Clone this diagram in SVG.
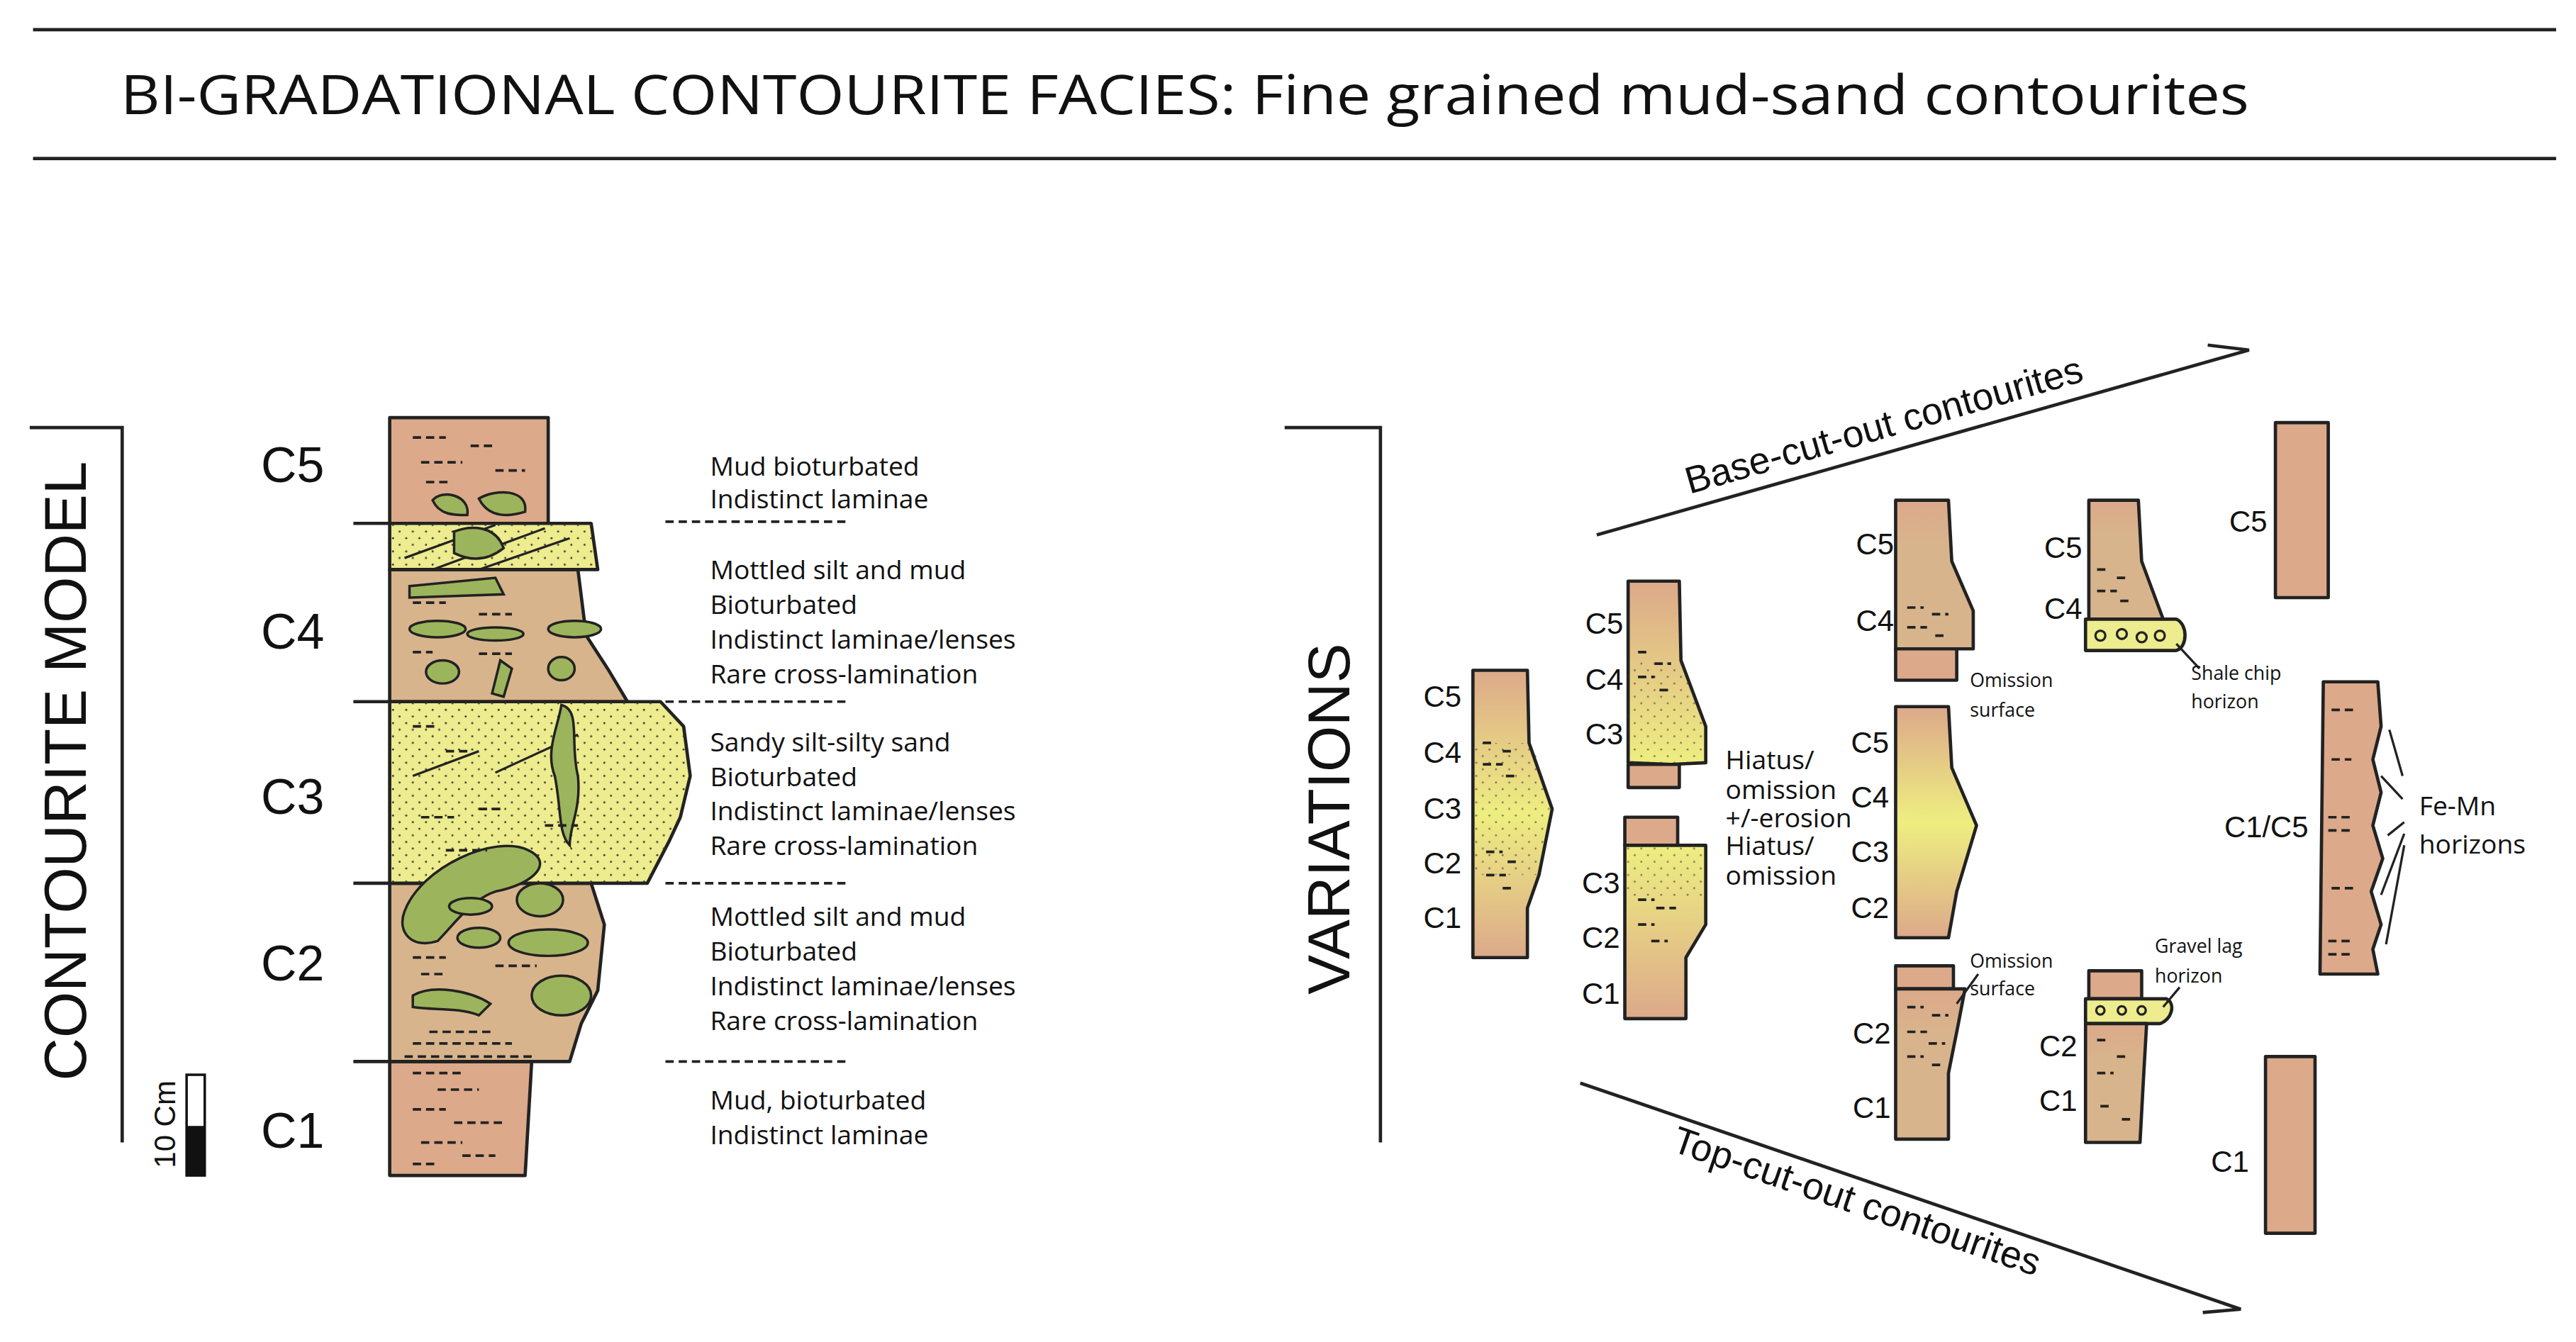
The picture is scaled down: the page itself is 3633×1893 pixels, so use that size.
<svg xmlns="http://www.w3.org/2000/svg" width="3633" height="1893" viewBox="0 0 3633 1893">
<defs>
<style>
.ln{stroke:#222;stroke-width:2;fill:none}
.col{stroke:#222;stroke-width:2;stroke-linejoin:round}
.mud{fill:#DCA98A}
.sand{fill:#EDEC8E}
.mot{fill:#D8B48C}
.blob{fill:#9CB45C;stroke:#222;stroke-width:1.5}
.dash{stroke:#222;stroke-width:1.6;fill:none;stroke-dasharray:5 3}
.cl{font-family:"Liberation Sans",Arial,sans-serif;font-size:30px;fill:#111}
.sl{font-family:"Liberation Sans",Arial,sans-serif;font-size:18px;fill:#111}
.ds{font-family:"Open Sans","Liberation Sans",sans-serif;font-size:16px;fill:#111}
.sm{font-family:"Open Sans","Liberation Sans",sans-serif;font-size:11.5px;fill:#111}
.big{font-family:"Liberation Sans",Arial,sans-serif;font-size:36px;fill:#111}
.tx{stroke:#222;stroke-width:1.4;fill:none}
</style>
<linearGradient id="gA" x1="0" y1="0" x2="0" y2="1">
<stop offset="0" stop-color="#DCA98A"/><stop offset="0.5" stop-color="#EEEE80"/><stop offset="1" stop-color="#DCA98A"/>
</linearGradient>
<linearGradient id="gB" x1="0" y1="0" x2="0" y2="1">
<stop offset="0" stop-color="#DCA98A"/><stop offset="1" stop-color="#EEEE80"/>
</linearGradient>
<linearGradient id="gC" x1="0" y1="0" x2="0" y2="1">
<stop offset="0" stop-color="#EEEE80"/><stop offset="1" stop-color="#DCA98A"/>
</linearGradient>
<linearGradient id="gD" x1="0" y1="0" x2="0" y2="1">
<stop offset="0" stop-color="#DCA98A"/><stop offset="0.3" stop-color="#D8B48C"/><stop offset="1" stop-color="#D8B48C"/>
</linearGradient>
<pattern id="dots" width="8" height="8" patternUnits="userSpaceOnUse"><circle cx="2" cy="2" r="0.6" fill="#333"/><circle cx="6" cy="6" r="0.6" fill="#333"/></pattern>
</defs>
<rect width="3633" height="1893" fill="#fff"/>
<g transform="scale(2.3288)">
<g id="header">
<line x1="20" y1="18" x2="1548" y2="18" class="ln"/>
<line x1="20" y1="96" x2="1548" y2="96" class="ln"/>
<text x="73" y="69" font-family="Open Sans,Liberation Sans,sans-serif" font-size="33" fill="#111" textLength="1289" lengthAdjust="spacingAndGlyphs">BI-GRADATIONAL CONTOURITE FACIES: Fine grained mud-sand contourites</text>
</g>

<g id="model-bracket">
<polyline points="18,259 74,259 74,692" class="ln"/>
<text class="big" transform="translate(52,467) rotate(-90)" text-anchor="middle">CONTOURITE MODEL</text>
</g>

<g id="model-column">
<path class="col mud" d="M236,253 L332,253 L332,317 L236,317 Z"/>
<path class="col mud" d="M236,643 L322,643 L318,712 L236,712 Z"/>
<path class="col mot" d="M236,535 L358,535 L366,560 L362,600 L352,620 L345,643 L236,643 Z"/>
<path class="col mot" d="M236,345 L350,345 L355,385 L368,405 L380,425 L236,425 Z"/>
<path class="col sand" d="M236,317 L358,317 L362,345 L236,345 Z"/>
<path d="M236,317 L358,317 L362,345 L236,345 Z" fill="url(#dots)"/>
<path class="col sand" d="M236,425 L400,425 L414,440 L418,470 L412,495 L405,510 L392,535 L236,535 Z"/>
<path d="M236,425 L400,425 L414,440 L418,470 L412,495 L405,510 L392,535 L236,535 Z" fill="url(#dots)"/>
<g class="tx">
<path d="M245,338 L300,318 M262,345 L330,320 M290,345 L345,326"/>
<path d="M250,470 L290,455 M300,468 L350,445"/>
</g>
<path class="blob" d="M340,427 C352,430 345,450 350,470 C352,490 345,500 345,512 C338,505 340,490 336,470 C330,455 338,440 340,427 Z"/>
<path class="blob" d="M245,552 C255,525 300,505 320,515 C335,522 325,535 300,540 C285,545 275,560 265,570 C250,575 240,565 245,552 Z"/>
<path class="blob" d="M275,322 C285,318 300,318 305,332 C295,340 285,340 275,335 Z"/>
<path class="blob" d="M248,355 L300,350 L305,360 L248,362 Z"/>
<ellipse class="blob" cx="265" cy="381" rx="17" ry="5"/>
<ellipse class="blob" cx="300" cy="384" rx="17" ry="4"/>
<ellipse class="blob" cx="348" cy="381" rx="16" ry="5"/>
<ellipse class="blob" cx="268" cy="407" rx="10" ry="7"/>
<ellipse class="blob" cx="340" cy="405" rx="8" ry="7"/>
<path class="blob" d="M298,420 L303,400 L310,405 L305,422 Z"/>
<ellipse class="blob" cx="285" cy="549" rx="13" ry="5"/>
<ellipse class="blob" cx="327" cy="545" rx="14" ry="10"/>
<ellipse class="blob" cx="332" cy="571" rx="24" ry="8"/>
<ellipse class="blob" cx="290" cy="568" rx="13" ry="6"/>
<ellipse class="blob" cx="340" cy="603" rx="18" ry="12"/>
<path class="blob" d="M250,603 C262,596 285,600 297,608 L290,615 C278,610 262,612 250,610 Z"/>
<path class="blob" d="M262,303 C268,296 285,300 283,312 C275,312 266,312 262,303 Z"/>
<path class="blob" d="M290,302 C300,296 320,296 318,310 C305,314 295,312 290,302 Z"/>
<g class="dash">
<path d="M250,265 h20 M285,270 h15 M255,280 h25 M300,285 h18 M258,292 h15 M245,640 h80 M250,650 h30 M265,660 h25 M250,672 h20 M275,680 h30 M255,692 h25 M280,700 h20 M250,705 h15"/>
<path d="M250,365 h20 M290,372 h20 M250,395 h12 M290,396 h20 M250,440 h15 M270,455 h15 M255,495 h20 M290,490 h15 M330,500 h20 M270,515 h25 M250,580 h20 M300,585 h25 M255,590 h15 M260,625 h40 M250,632 h60"/>
</g>
</g>

<g id="model-ticks">
<g class="ln">
<line x1="214" y1="317" x2="236" y2="317"/><line x1="214" y1="425" x2="236" y2="425"/>
<line x1="214" y1="535" x2="236" y2="535"/><line x1="214" y1="643" x2="236" y2="643"/>
</g>
<text class="cl" x="158" y="292">C5</text><text class="cl" x="158" y="393">C4</text>
<text class="cl" x="158" y="493">C3</text><text class="cl" x="158" y="594">C2</text><text class="cl" x="158" y="695">C1</text>
<rect x="113" y="651" width="11" height="61" fill="#fff" stroke="#111" stroke-width="1.5"/>
<rect x="113" y="682" width="11" height="30" fill="#111"/>
<text class="sl" transform="translate(106,681) rotate(-90)" text-anchor="middle">10 Cm</text>
</g>

<g id="model-descriptions">
<g class="dash" stroke-dasharray="3 1.5" stroke-width="2.2">
<line x1="403" y1="316" x2="512" y2="316"/><line x1="403" y1="425" x2="512" y2="425"/>
<line x1="403" y1="535" x2="512" y2="535"/><line x1="403" y1="643" x2="512" y2="643"/>
</g>
<text class="ds" x="430" y="288">Mud bioturbated</text><text class="ds" x="430" y="308">Indistinct laminae</text>
<text class="ds" x="430" y="351">Mottled silt and mud</text><text class="ds" x="430" y="372">Bioturbated</text>
<text class="ds" x="430" y="393">Indistinct laminae/lenses</text><text class="ds" x="430" y="414">Rare cross-lamination</text>
<text class="ds" x="430" y="455">Sandy silt-silty sand</text><text class="ds" x="430" y="476">Bioturbated</text>
<text class="ds" x="430" y="497">Indistinct laminae/lenses</text><text class="ds" x="430" y="518">Rare cross-lamination</text>
<text class="ds" x="430" y="561">Mottled silt and mud</text><text class="ds" x="430" y="582">Bioturbated</text>
<text class="ds" x="430" y="603">Indistinct laminae/lenses</text><text class="ds" x="430" y="624">Rare cross-lamination</text>
<text class="ds" x="430" y="672">Mud, bioturbated</text><text class="ds" x="430" y="693">Indistinct laminae</text>
</g>

<g id="variations-bracket">
<polyline points="778,259 836,259 836,692" class="ln"/>
<text class="big" font-size="40" transform="translate(817,496) rotate(-90)" text-anchor="middle">VARIATIONS</text>
</g>

<g id="connectors">
<path class="ln" d="M967,324 L1362,212 L1337,209"/>
<path class="ln" d="M957,656 L1357,793 L1334,795"/>
<text font-family="Liberation Sans,Arial,sans-serif" font-size="23" fill="#111" transform="translate(1143,265) rotate(-16)" text-anchor="middle">Base-cut-out contourites</text>
<text font-family="Liberation Sans,Arial,sans-serif" font-size="23" fill="#111" transform="translate(1122,735) rotate(19)" text-anchor="middle">Top-cut-out contourites</text>
</g>

<g id="col-a">
<path class="col" fill="url(#gA)" d="M892,406 L925,406 L926,450 L940,490 L932,530 L925,550 L925,580 L892,580 Z"/>
<path d="M892,450 L928,450 L940,490 L932,530 L892,530 Z" fill="url(#dots)" opacity="0.6"/>
<g class="dash"><path d="M898,450 h8 M910,455 h8 M898,463 h12 M912,470 h8 M900,516 h10 M913,522 h8 M900,530 h12 M910,538 h8"/></g>
<text class="sl" x="862" y="428">C5</text><text class="sl" x="862" y="462">C4</text><text class="sl" x="862" y="496">C3</text><text class="sl" x="862" y="529">C2</text><text class="sl" x="862" y="562">C1</text>
</g>

<g id="col-b">
<path class="col" fill="url(#gB)" d="M986,352 L1017,352 L1018,400 L1033,440 L1033,462 L1012,463 L986,462 Z"/>
<path d="M986,400 L1018,400 L1033,440 L1033,462 L986,462 Z" fill="url(#dots)" opacity="0.6"/>
<path class="col mud" d="M986,463 L1017,463 L1017,477 L986,477 Z"/>
<path class="col mud" d="M984,495 L1016,495 L1016,512 L984,512 Z"/>
<path class="col" fill="url(#gC)" d="M984,512 L1033,512 L1033,560 L1021,580 L1021,617 L984,617 Z"/>
<path d="M984,512 L1033,512 L1033,545 L984,545 Z" fill="url(#dots)" opacity="0.6"/>
<g class="dash"><path d="M992,395 h8 M1002,402 h10 M992,410 h10 M1005,418 h8 M992,545 h10 M1003,550 h12 M992,560 h10 M1000,570 h10"/></g>
<text class="sl" x="960" y="384">C5</text><text class="sl" x="960" y="418">C4</text><text class="sl" x="960" y="451">C3</text>
<text class="sl" x="958" y="541">C3</text><text class="sl" x="958" y="574">C2</text><text class="sl" x="958" y="608">C1</text>
<text class="ds" x="1045" y="466">Hiatus/</text><text class="ds" x="1045" y="484">omission</text>
<text class="ds" x="1045" y="501">+/-erosion</text><text class="ds" x="1045" y="518">Hiatus/</text><text class="ds" x="1045" y="536">omission</text>
</g>

<g id="col-c">
<path class="col" fill="url(#gD)" d="M1148,303 L1180,303 L1182,340 L1195,370 L1195,393 L1148,393 Z"/>
<path class="col mud" d="M1148,393 L1185,393 L1185,412 L1148,412 Z"/>
<g class="dash"><path d="M1155,368 h10 M1170,372 h10 M1155,380 h12 M1172,385 h8"/></g>
<text class="sl" x="1124" y="336">C5</text><text class="sl" x="1124" y="382">C4</text>
<text class="sm" x="1193" y="416">Omission</text><text class="sm" x="1193" y="434">surface</text>
<path class="col" fill="url(#gA)" d="M1148,428 L1180,428 L1182,465 L1197,500 L1185,540 L1180,568 L1148,568 Z"/>
<text class="sl" x="1121" y="456">C5</text><text class="sl" x="1121" y="489">C4</text><text class="sl" x="1121" y="522">C3</text><text class="sl" x="1121" y="556">C2</text>
<path class="col mud" d="M1148,585 L1183,585 L1183,599 L1148,599 Z"/>
<path class="col" fill="url(#gD)" d="M1148,599 L1190,599 L1186,620 L1180,650 L1180,690 L1148,690 Z"/>
<g class="dash"><path d="M1155,610 h10 M1170,615 h10 M1155,625 h12 M1168,632 h10 M1155,640 h10 M1170,645 h8"/></g>
<path class="tx" d="M1185,608 L1198,590"/>
<text class="sl" x="1122" y="632">C2</text><text class="sl" x="1122" y="677">C1</text>
<text class="sm" x="1193" y="586">Omission</text><text class="sm" x="1193" y="603">surface</text>
</g>

<g id="col-d">
<path class="col" fill="url(#gD)" d="M1265,303 L1295,303 L1297,340 L1310,375 L1265,375 Z"/>
<path class="col sand" d="M1263,375 L1318,375 C1325,378 1325,392 1318,394 L1263,394 Z"/>
<g class="tx"><circle cx="1272" cy="385" r="3"/><circle cx="1285" cy="384" r="3"/><circle cx="1297" cy="386" r="3"/><circle cx="1308" cy="385" r="3"/></g>
<g class="dash"><path d="M1270,345 h8 M1282,350 h8 M1270,358 h12 M1284,364 h8"/></g>
<path class="tx" d="M1318,390 L1332,405"/>
<text class="sl" x="1238" y="338">C5</text><text class="sl" x="1238" y="375">C4</text>
<text class="sm" x="1327" y="412">Shale chip</text><text class="sm" x="1327" y="429">horizon</text>
<path class="col mud" d="M1265,588 L1297,588 L1297,605 L1265,605 Z"/>
<path class="col sand" d="M1263,605 L1312,605 C1318,608 1315,618 1308,620 L1263,620 Z"/>
<g class="tx"><circle cx="1272" cy="612" r="2.5"/><circle cx="1285" cy="612" r="2.5"/><circle cx="1297" cy="612" r="2.5"/></g>
<path class="col" fill="url(#gD)" d="M1263,620 L1300,620 L1298,655 L1296,692 L1263,692 Z"/>
<g class="dash"><path d="M1270,630 h8 M1282,640 h8 M1270,650 h10 M1272,670 h6 M1285,678 h8"/></g>
<path class="tx" d="M1310,610 L1320,598"/>
<text class="sl" x="1235" y="640">C2</text><text class="sl" x="1235" y="673">C1</text>
<text class="sm" x="1305" y="577">Gravel lag</text><text class="sm" x="1305" y="595">horizon</text>
</g>

<g id="col-e">
<rect class="col mud" x="1378" y="256" width="32" height="106"/>
<text class="sl" x="1350" y="322">C5</text>
<path class="col mud" d="M1407,413 L1440,413 L1442,440 L1437,460 L1442,480 L1437,500 L1443,520 L1436,540 L1442,560 L1437,575 L1440,590 L1405,590 Z"/>
<g class="dash"><path d="M1412,430 h15 M1412,460 h12 M1410,495 h16 M1410,503 h14 M1412,538 h14 M1410,570 h16 M1410,578 h16"/></g>
<g class="tx"><path d="M1455,470 L1447,442 M1455,484 L1442,470 M1456,498 L1446,506 M1456,505 L1442,542 M1456,512 L1445,572"/></g>
<text class="sl" x="1347" y="507">C1/C5</text>
<text class="ds" x="1465" y="494">Fe-Mn</text><text class="ds" x="1465" y="517">horizons</text>
<rect class="col mud" x="1372" y="640" width="30" height="107"/>
<text class="sl" x="1339" y="710">C1</text>
</g>
</g>
</svg>
